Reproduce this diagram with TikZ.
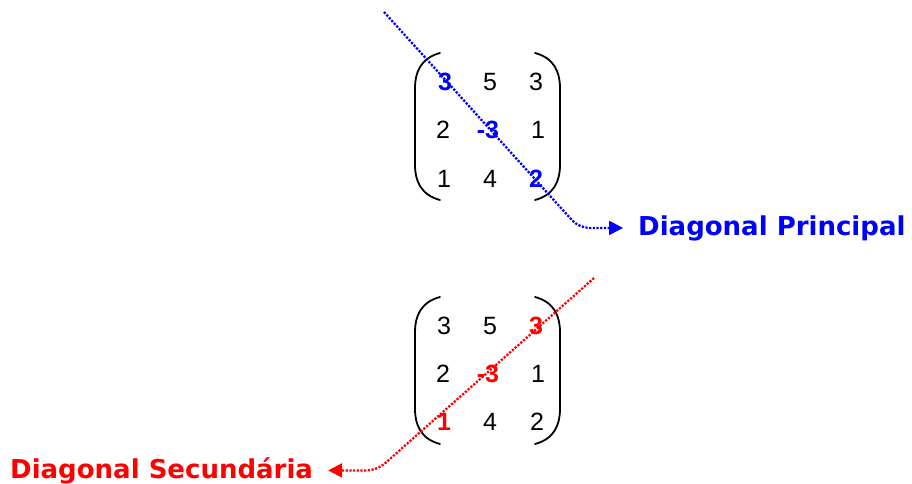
\documentclass[tikz,border=0pt]{standalone}
\usepackage{fontspec}
\setmainfont{Liberation Sans}
\newfontfamily\labfont{DejaVu Sans}
\usetikzlibrary{arrows.meta}
\definecolor{pblue}{RGB}{0,0,255}
\definecolor{pred}{RGB}{255,0,0}
\tikzset{
  ent/.style={inner sep=0pt, anchor=base, font=\fontsize{25}{29}\selectfont},
  hi/.style={ent, font=\fontsize{25}{29}\selectfont\bfseries},
  paren/.style={line width=1.8pt, line cap=round},
  dotline/.style={line width=2.3pt, dash pattern=on 2.2pt off 1.5pt, rounded corners=10pt,
    -{Triangle[length=14pt,width=14pt]}, shorten >=15pt},
  lab/.style={inner sep=0pt, font=\labfont\bfseries\fontsize{26}{30}\selectfont},
}
\begin{document}
\begin{tikzpicture}[x=1pt,y=-1pt]
\useasboundingbox (0,0) rectangle (912,484);
% top matrix
\draw[paren] (440,53) .. controls (421,58) and (415,72) .. (415,88) -- (415,165) .. controls (415,181) and (421,195) .. (440,200);
\draw[paren] (535,53) .. controls (554,58) and (560,72) .. (560,88) -- (560,165) .. controls (560,181) and (554,195) .. (535,200);
\node[hi, text=pblue] (a11) at (445,91) {3};
\node[ent] (a12) at (490,91) {5};
\node[ent] (a13) at (536,91) {3};
\node[ent] (a21) at (443,139) {2};
\node[hi, text=pblue] (a22) at (488,139) {-3};
\node[ent] (a23) at (538,139) {1};
\node[ent] (a31) at (444,187) {1};
\node[ent] (a32) at (490,187) {4};
\node[hi, text=pblue] (a33) at (536,187) {2};
% bottom matrix
\draw[paren] (440,297) .. controls (421,302) and (415,316) .. (415,332) -- (415,409) .. controls (415,425) and (421,439) .. (440,444);
\draw[paren] (535,297) .. controls (554,302) and (560,316) .. (560,332) -- (560,409) .. controls (560,425) and (554,439) .. (535,444);
\node[ent] (b11) at (444,334) {3};
\node[ent] (b12) at (490,334) {5};
\node[hi, text=pred] (b13) at (536,334) {3};
\node[ent] (b21) at (443,382) {2};
\node[hi, text=pred] (b22) at (488,382) {-3};
\node[ent] (b23) at (538,382) {1};
\node[hi, text=pred] (b31) at (444,430) {1};
\node[ent] (b32) at (490,430) {4};
\node[ent] (b33) at (537,430) {2};
% labels
\node[lab, text=pblue, anchor=base west] (dp) at (638,235) {Diagonal Principal};
\node[lab, text=pred, anchor=base west] (ds) at (10,478) {Diagonal Secundária};
% connectors
\coordinate (bs) at (384,12);
\coordinate (bc) at (579,0);
\coordinate (rs) at (594,278);
\coordinate (rc) at (377,0);
\draw[dotline, pblue] (bs) -- (bc |- dp.west) -- (dp.west);
\draw[dotline, pred] (rs) -- (rc |- ds.east) -- (ds.east);
\end{tikzpicture}
\end{document}
